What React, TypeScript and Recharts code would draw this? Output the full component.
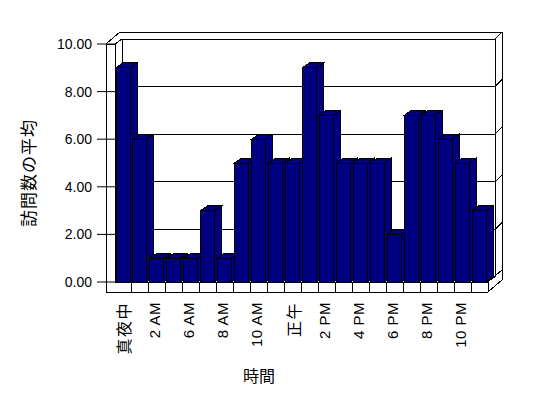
import { Bar, BarChart, CartesianGrid, ReferenceArea, XAxis, YAxis } from "recharts";

const hours = [
  "真夜中", "1 AM", "2 AM", "5 AM", "6 AM", "7 AM", "8 AM", "9 AM", "10 AM", "11 AM", "正午",
  "1 PM", "2 PM", "3 PM", "4 PM", "5 PM", "6 PM", "7 PM", "8 PM", "9 PM", "10 PM", "11 PM",
];
const visits = [9, 6, 1, 1, 1, 3, 1, 5, 6, 5, 5, 9, 7, 5, 5, 5, 2, 7, 7, 6, 5, 3];
const yTicks = [0, 2, 4, 6, 8, 10];
const yTitle = "訪問数の平均";
const xTitle = "時間";

const data = hours.map((h, i) => ({ hour: h, visits: visits[i] }));

const FONT = "'Liberation Sans', Arial, 'Noto Sans CJK JP', sans-serif";
const NAVY = "#000080";
// depth offsets: bar / back wall inner face, back wall outer face
const D1 = { x: 7, y: -5 };
const D2 = { x: 14, y: -12 };

function Bar3D(props: any) {
  const { x, y, width: w, height: h } = props;
  if (h <= 0) return null;
  const top = `${x},${y} ${x + D1.x},${y + D1.y} ${x + w + D1.x},${y + D1.y} ${x + w},${y}`;
  const side = `${x + w},${y} ${x + w + D1.x},${y + D1.y} ${x + w + D1.x},${y + h + D1.y} ${x + w},${y + h}`;
  return (
    <g stroke="#000" strokeWidth={1} shapeRendering="crispEdges">
      <polygon points={side} fill={NAVY} />
      <polygon points={top} fill={NAVY} />
      <rect x={x} y={y} width={w} height={h} fill={NAVY} />
    </g>
  );
}

function Frame(props: any) {
  const { x: L, y: T, width, height } = props;
  const R = L + width;
  const B = T + height;
  const slot = width / hours.length;
  const ln = (x1: number, y1: number, x2: number, y2: number, k: string) => (
    <line key={k} x1={x1} y1={y1} x2={x2} y2={y2} />
  );
  const lines = [
    // left wall
    ln(L - 9, T, L, T, "lw1"),
    ln(L - 9, T, L + 5, T - 12, "lw2"),
    ln(L, T, L + D1.x, T + D1.y, "lw3"),
    ln(L - 9, T, L - 9, B + 10, "lw4"),
    ln(L, T, L, B, "lw5"),
    ln(L, B, L + D1.x, B + D1.y, "lw6"),
    // back wall
    ln(L + 5, T - 12, R + D2.x, T + D2.y, "bw1"),
    ln(L + D1.x, T + D1.y, R + D1.x, T + D1.y, "bw2"),
    ln(L + D1.x, T + D1.y, L + D1.x, B + D1.y, "bw3"),
    ln(R + D1.x, T + D1.y, R + D1.x, B + D1.y, "bw4"),
    ln(L + D1.x, B + D1.y, R + D1.x, B + D1.y, "bw5"),
    ln(R + D1.x, T + D1.y, R + D2.x, T + D2.y, "bw6"),
    ln(R + D2.x, T + D2.y, R + D2.x, B - 2, "bw7"),
    // floor
    ln(L, B, R, B, "f1"),
    ln(L - 9, B + 10, R, B + 10, "f2"),
    ln(R, B, R, B + 10, "f3"),
    ln(R, B, R + D2.x, B + D2.y, "f4"),
    ln(R, B + 10, R + D2.x, B - 2, "f5"),
  ];
  hours.forEach((_, i) => {
    if (i > 0) lines.push(ln(L + i * slot, B, L + i * slot, B + 10, `ft${i}`));
  });
  yTicks.forEach((v) => {
    const gy = B - (v / 10) * height;
    if (v > 0 && v < 10) lines.push(ln(R + D1.x, gy + D1.y, R + D2.x, gy + D2.y, `rt${v}`));
  });
  return (
    <g stroke="#000" strokeWidth={1} fill="none" shapeRendering="crispEdges">
      {lines}
    </g>
  );
}

function HourTick(props: any) {
  const { x, y, payload } = props;
  const cjk = /[^\x00-\x7f]/.test(payload.value);
  const bx = x + (cjk ? 7 : 3);
  const top = y + 20;
  return (
    <text
      x={bx}
      y={top}
      transform={`rotate(-90 ${bx} ${top})`}
      textAnchor="end"
      fontSize={cjk ? 16 : 15}
      letterSpacing={cjk ? 1.5 : 0.5}
      fill="#000"
      fontFamily={FONT}
    >
      {payload.value}
    </text>
  );
}

const YTitle = () => (
  <text
    x={29}
    y={173}
    transform="rotate(-90 29 173)"
    textAnchor="middle"
    dominantBaseline="central"
    fontSize={17}
    letterSpacing={1}
    fontFamily={FONT}
    fill="#000"
  >
    {yTitle}
  </text>
);

const XTitle = () => (
  <text
    x={259}
    y={376}
    textAnchor="middle"
    dominantBaseline="central"
    fontSize={16}
    fontFamily={FONT}
    fill="#000"
  >
    {xTitle}
  </text>
);

export default function App() {
  return (
    <div style={{ position: "absolute", left: 0, top: 0, background: "#fff" }}>
      <BarChart
        width={548}
        height={398}
        data={data}
        margin={{ top: 44, right: 60, bottom: 56, left: 0 }}
        barSize={14}
      >
        <CartesianGrid
          vertical={false}
          horizontal={(p: any) => (
            <line
              key={p.key}
              x1={p.x1 + D1.x}
              y1={p.y1 + D1.y}
              x2={p.x2 + D1.x}
              y2={p.y2 + D1.y}
              stroke="#000"
              shapeRendering="crispEdges"
            />
          )}
        />
        <ReferenceArea y1={0} y2={10} shape={(p: any) => <Frame {...p} />} />
        <XAxis
          dataKey="hour"
          interval={1}
          height={60}
          tickLine={false}
          axisLine={false}
          tickSize={0}
          tickMargin={0}
          tick={<HourTick />}
          label={XTitle}
        />
        <YAxis
          domain={[0, 10]}
          ticks={yTicks}
          width={115}
          axisLine={false}
          tickLine={{ stroke: "#000" }}
          tickSize={18}
          tickMargin={5}
          tickFormatter={(v: number) => v.toFixed(2)}
          tick={{ fontSize: 14, fill: "#000", fontFamily: FONT }}
          label={YTitle}
        />
        <Bar dataKey="visits" shape={<Bar3D />} isAnimationActive={false} />
      </BarChart>
    </div>
  );
}
